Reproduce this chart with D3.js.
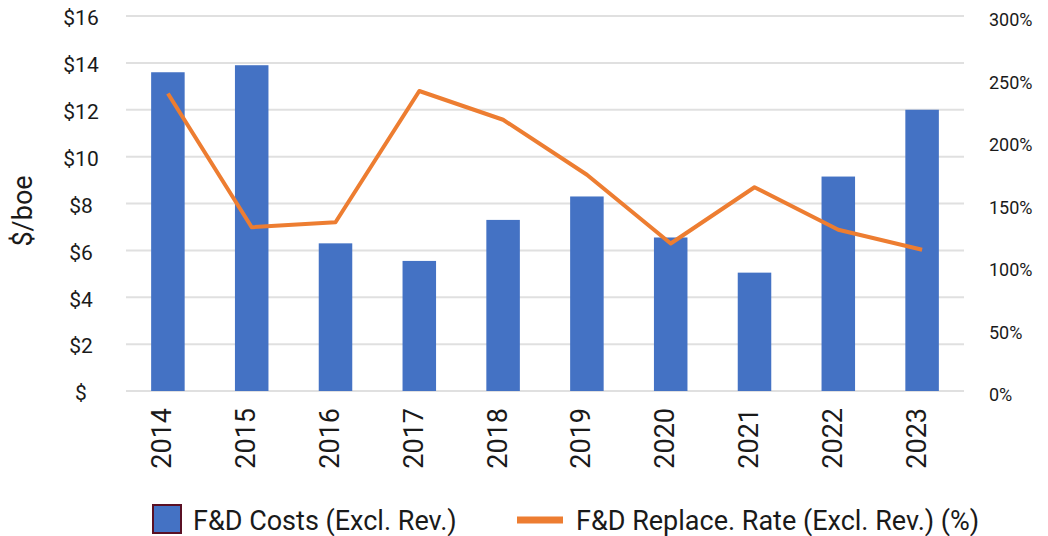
<!DOCTYPE html>
<html>
<head>
<meta charset="utf-8">
<script src="https://cdn.jsdelivr.net/npm/d3@7"></script>
<style>
  body { margin: 0; background: #fff; }
  svg text { font-family: Roboto, "Noto Sans", sans-serif; fill: #1a1a1a; }
</style>
</head>
<body>
<svg id="chart" width="1048" height="536"></svg>
<script>
const years = ["2014", "2015", "2016", "2017", "2018", "2019", "2020", "2021", "2022", "2023"];
const costs = [13.6, 13.9, 6.3, 5.55, 7.3, 8.3, 6.55, 5.05, 9.15, 12.0];
const replaceRate = [238, 131, 135, 240, 217, 173, 118, 163, 129, 113];
const leftTicks = [0, 2, 4, 6, 8, 10, 12, 14, 16];
const rightTicks = [0, 50, 100, 150, 200, 250, 300];

const svg = d3.select("#chart");
const plotLeft = 126, plotRight = 964, plotTop = 16, plotBottom = 391;

const x = d3.scaleBand().domain(years).range([plotLeft, plotRight]).paddingInner(0.6).paddingOuter(0.3);
const y = d3.scaleLinear().domain([0, 16]).range([plotBottom, plotTop]);
const y2 = d3.scaleLinear().domain([0, 300]).range([plotBottom, plotTop]);

// gridlines
svg.append("g").selectAll("line").data(leftTicks).enter().append("line")
  .attr("x1", plotLeft).attr("x2", plotRight)
  .attr("y1", d => y(d)).attr("y2", d => y(d))
  .attr("stroke", "#e0e0e0").attr("stroke-width", 2);

// left axis labels
svg.append("g").selectAll("text").data(leftTicks).enter().append("text")
  .attr("x", 81).attr("y", d => y(d) + 2).attr("dy", "0.35em")
  .attr("text-anchor", "middle").attr("font-size", 21)
  .text(d => d === 0 ? "$" : "$" + d);

// right axis labels
svg.append("g").selectAll("text").data(rightTicks).enter().append("text")
  .attr("x", 989).attr("y", d => y2(d) + 4).attr("dy", "0.35em")
  .attr("font-size", 18)
  .text(d => d + "%");

// y title
svg.append("text")
  .attr("transform", "translate(32,211) rotate(-90)")
  .attr("text-anchor", "middle").attr("font-size", 27)
  .text("$/boe");

// bars
svg.append("g").selectAll("rect").data(costs).enter().append("rect")
  .attr("x", (d, i) => x(years[i]))
  .attr("y", d => y(d))
  .attr("width", x.bandwidth())
  .attr("height", d => plotBottom - y(d))
  .attr("fill", "#4472C4");

// line
const line = d3.line()
  .x((d, i) => x(years[i]) + x.bandwidth() / 2)
  .y(d => y2(d));
svg.append("path").datum(replaceRate)
  .attr("d", line)
  .attr("fill", "none")
  .attr("stroke", "#ED7D31")
  .attr("stroke-width", 4)
  .attr("stroke-linejoin", "round");

// x labels
svg.append("g").selectAll("text").data(years).enter().append("text")
  .attr("transform", d => "translate(" + (x(d) + x.bandwidth() / 2 - 6) + ",408) rotate(-90)")
  .attr("dy", "0.35em")
  .attr("text-anchor", "end").attr("font-size", 27)
  .text(d => d);

// legend
const legend = svg.append("g");
legend.append("rect")
  .attr("x", 153).attr("y", 505).attr("width", 28).attr("height", 28)
  .attr("fill", "#4472C4").attr("stroke", "#5a1024").attr("stroke-width", 2);
legend.append("text")
  .attr("x", 193).attr("y", 530).attr("font-size", 27)
  .text("F&D Costs (Excl. Rev.)");
legend.append("line")
  .attr("x1", 517).attr("x2", 563).attr("y1", 520).attr("y2", 520)
  .attr("stroke", "#ED7D31").attr("stroke-width", 7);
legend.append("text")
  .attr("x", 576).attr("y", 530).attr("font-size", 27)
  .text("F&D Replace. Rate (Excl. Rev.) (%)");
</script>
</body>
</html>
